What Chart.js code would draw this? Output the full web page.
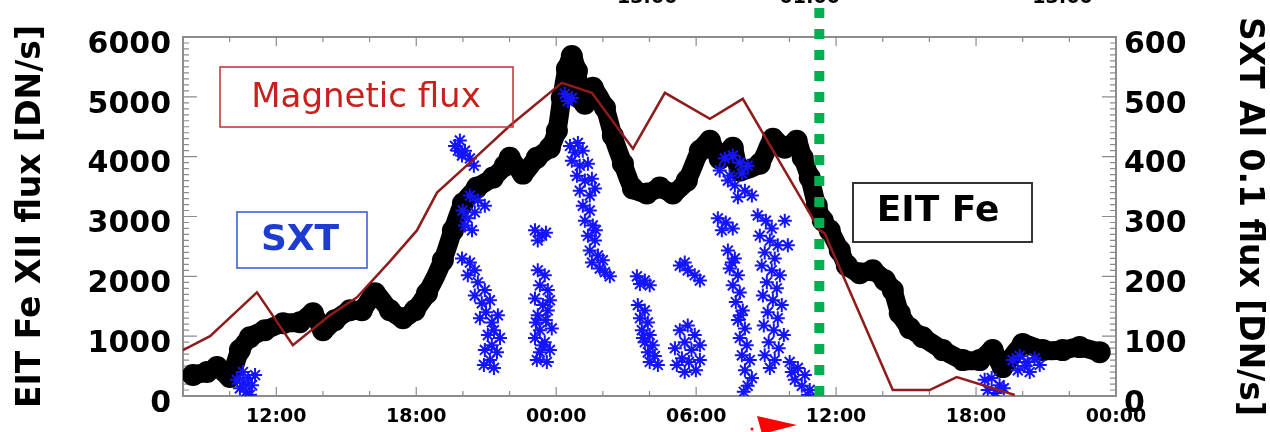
<!DOCTYPE html>
<html>
<head>
  <meta charset="utf-8">
  <title>EIT / SXT / magnetic flux</title>
  <script src="https://cdn.jsdelivr.net/npm/chart.js@4.4.1/dist/chart.umd.min.js"></script>
  <style>
    html, body { margin: 0; padding: 0; background: #ffffff; }
    #wrap { position: relative; width: 1270px; height: 432px; }
  </style>
</head>
<body>
<div id="wrap"><canvas id="chartJSContainer"></canvas></div>
<script>
// time in hours from 00:00 of the first day
var X_MIN = 8, X_MAX = 48;
var BOTTOM_TICKS  = [12, 18, 24, 30, 36, 42, 48];
var BOTTOM_LABELS = ['12:00', '18:00', '00:00', '06:00', '12:00', '18:00', '00:00'];
// cut-off labels of the panel above
var TOP_TICKS  = [27.9, 34.87, 45.71];
var TOP_LABELS = ['13:00', '01:00', '13:00'];

var MARKER_T = 35.28;   // green dotted line
var MARKER_TOP = 6620;

// magnetic flux (left axis units)
var MAG_T = [8.0, 9.16, 11.17, 12.71, 14.3, 15.46, 16.87, 18.03, 18.89, 20.3, 22.01, 24.24,
             25.53, 27.29, 28.66, 30.59, 32.0, 35.3, 35.51, 38.43, 40.01, 41.17, 43.66];
var MAG_V = [767, 1000, 1733, 850, 1350, 1650, 2250, 2767, 3400, 3900, 4517, 5233,
             5067, 4133, 5067, 4633, 4967, 2767, 2717, 100, 100, 317, 17];

// EIT Fe XII flux [DN/s]
var EIT_T = [8.43, 9.03, 9.46, 10.01, 10.44, 10.87, 11.51, 12.29, 13.01, 13.57, 14.0, 14.51,
             15.16, 15.67, 16.23, 16.87, 17.43, 17.94, 18.46, 19.14, 19.57, 20.0, 20.6, 21.29,
             21.8, 22.01, 22.57, 23.17, 23.73, 24.03, 24.24, 24.46, 24.67, 24.89, 25.01, 25.23,
             25.57, 26.09, 26.43, 26.86, 27.29, 27.89, 28.44, 29.0, 29.6, 30.16, 30.59, 31.01,
             31.57, 31.87, 32.73, 33.29, 33.8, 34.31, 34.57, 34.87, 35.17, 35.43, 35.73, 36.16,
             36.46, 37.01, 37.57, 38.09, 38.43, 38.73, 39.16, 39.71, 40.57, 41.43, 42.16, 42.71,
             43.14, 44.0, 44.86, 45.71, 46.44, 47.3];
var EIT_V = [350, 400, 483, 317, 767, 983, 1100, 1217, 1233, 1383, 1100, 1267,
             1433, 1433, 1717, 1433, 1300, 1433, 1717, 2267, 2767, 3217, 3483, 3650,
             3850, 3983, 3717, 3983, 4150, 4433, 4983, 5467, 5683, 5433, 4983, 4883,
             5150, 4817, 4350, 3883, 3467, 3383, 3483, 3383, 3600, 4100, 4267, 3967,
             4150, 3767, 3883, 4300, 4150, 4267, 3983, 3650, 3183, 2933, 2767, 2433,
             2183, 2050, 2100, 1933, 1767, 1383, 1133, 983, 767, 600, 600, 767,
             483, 867, 767, 767, 817, 733];

// SXT Al 0.1 flux [DN/s] (right axis)
var SXT_T = [
  10.31, 10.57, 10.79, 10.44, 10.7, 10.96, 11.09, 10.87, 10.61,
  19.66, 19.87, 20.09, 20.3, 19.96, 20.47, 19.79,
  20.3, 20.64, 19.99, 20.2, 20.51, 20.94, 20.39, 20.09,
  19.96, 20.3, 20.51, 20.21, 20.64, 20.94, 20.51, 20.81, 21.16, 20.99, 20.73, 21.24,
  21.5, 21.33, 21.07, 21.59, 21.24, 20.94, 21.46, 21.16, 20.9, 21.33,
  23.09, 23.39, 23.21, 23.56,
  23.21, 23.51, 23.3, 23.64, 23.09, 23.43, 23.73, 23.21, 23.56, 23.3, 23.81, 23.09,
  23.51, 23.3, 23.73, 23.17, 23.6, 23.39, 23.64, 23.13,
  24.37, 24.67, 24.5,
  24.59, 24.93, 24.8, 25.14, 24.67, 25.01, 25.36, 24.89, 25.23, 25.53, 25.01, 25.44, 25.66,
  25.14, 25.44, 25.23, 25.57, 25.36, 25.66, 25.44, 25.79, 25.53, 25.87, 26.09, 26.3, 25.7, 26.0,
  27.46, 27.8, 28.01, 27.59,
  27.5, 27.8, 27.59, 27.93, 27.67, 28.01, 27.8, 28.14, 27.93, 28.23, 28.01, 28.36, 27.72,
  29.3, 29.64, 29.94, 30.16, 29.51,
  29.3, 29.64, 29.94, 29.51, 29.09, 29.8, 30.16, 29.39, 29.17, 29.69, 29.99, 29.51, 30.16,
  31.23, 31.57, 31.87, 32.21, 31.01, 31.44, 31.96, 31.66, 32.09, 32.39, 31.36, 31.79,
  30.93, 31.27, 31.57, 31.1,
  31.36, 31.66, 31.44, 31.79, 31.57, 31.87, 31.7, 32.0, 31.79, 32.09, 31.87, 32.17,
  31.96, 32.3, 32.09, 32.39, 32.21, 32.04, 31.53, 31.91,
  32.64, 32.99, 33.24, 32.73, 33.16, 33.5, 32.94, 33.37, 32.81, 33.24, 33.59, 33.03,
  33.46, 32.86, 33.29, 33.67, 33.07, 33.5, 32.9, 33.33, 33.76, 33.11, 33.54, 32.94,
  33.37, 33.16, 33.8, 33.93,
  34.01, 34.36, 34.66, 34.23, 34.53, 34.87, 34.1, 34.79,
  42.37, 42.67, 43.01, 42.5, 42.84, 43.19,
  43.57, 43.87, 44.21, 44.51, 44.73, 43.79, 44.3, 44.09
];
var SXT_V = [
  27, 40, 30, 13, 7, 18, 35, 2, 22,
  418, 427, 410, 397, 402, 385, 410,
  335, 327, 310, 297, 307, 318, 277, 285,
  230, 223, 210, 202, 190, 177, 168, 155, 160, 140, 130, 123,
  135, 110, 102, 97, 85, 77, 73, 60, 52, 47,
  277, 268, 260, 273,
  210, 202, 185, 177, 163, 152, 160, 135, 127, 110, 113, 97,
  90, 73, 77, 60, 57, 85, 143, 123,
  505, 498, 493,
  418, 423, 407, 410, 393, 385, 388, 368, 360, 363, 343, 335, 347,
  318, 310, 293, 285, 268, 260, 243, 235, 223, 213, 207, 200, 277, 227,
  200, 193, 185, 187,
  152, 143, 130, 123, 110, 102, 90, 85, 73, 67, 57, 52, 97,
  218, 210, 202, 193, 223,
  110, 118, 102, 90, 80, 77, 85, 63, 52, 57, 43, 40, 60,
  397, 402, 390, 385, 377, 368, 372, 352, 343, 335, 360, 332,
  297, 290, 280, 277,
  243, 230, 213, 202, 185, 173, 157, 143, 127, 113, 97, 85,
  68, 60, 43, 30, 17, 7, 223, 135,
  302, 293, 280, 268, 260, 252, 240, 230, 218, 210, 202, 190,
  180, 168, 160, 152, 140, 130, 118, 110, 102, 90, 80, 68,
  60, 47, 293, 252,
  57, 47, 35, 27, 17, 10, 40, 2,
  27, 30, 18, 10, 5, 13,
  60, 67, 57, 63, 52, 43, 40, 50
];

var FONT = "'DejaVu Sans', sans-serif";

function toPoints(xs, ys){
    var pts = new Array();
    for(var i = 0; i < xs.length; i++){
        pts.push({x: xs[i], y: ys[i]});
    }
    return pts;
}

// box, inward ticks, labels in boxes, red arrow
var framePlugin = {
    id: 'frame',
    beforeDatasetsDraw: function(chart){
        var ctx = chart.ctx, a = chart.chartArea, sx = chart.scales.x, sy = chart.scales.y;
        ctx.save();
        ctx.strokeStyle = '#8c8c8c';
        ctx.lineWidth = 2;
        ctx.strokeRect(a.left, a.top, a.right - a.left, a.bottom - a.top);
        ctx.lineWidth = 1.2;
        ctx.beginPath();
        for(var h = X_MIN; h <= X_MAX; h += 2){
            var x = sx.getPixelForValue(h);
            var len = (h % 6 == 0) ? 9 : 5;
            ctx.moveTo(x, a.bottom); ctx.lineTo(x, a.bottom - len);
            ctx.moveTo(x, a.top); ctx.lineTo(x, a.top + len);
        }
        for(var v = 0; v <= 6000; v += 100){
            var y = sy.getPixelForValue(v);
            var l2 = (v % 1000 == 0) ? 14 : 6;
            ctx.moveTo(a.left, y); ctx.lineTo(a.left + l2, y);
            ctx.moveTo(a.right, y); ctx.lineTo(a.right - l2, y);
        }
        ctx.stroke();
        ctx.restore();
    },
    afterDatasetsDraw: function(chart){
        var ctx = chart.ctx;
        ctx.save();
        ctx.textAlign = 'center';
        ctx.textBaseline = 'middle';

        ctx.lineWidth = 1.6;
        ctx.strokeStyle = '#c23b3b';
        ctx.strokeRect(220, 67, 293, 60);
        ctx.fillStyle = '#c8201e';
        ctx.font = "34px " + FONT;
        ctx.fillText('Magnetic flux', 366, 98);

        ctx.strokeStyle = '#3d5fd8';
        ctx.strokeRect(237, 212, 130, 56);
        ctx.fillStyle = '#1e3ccf';
        ctx.font = "bold 36px " + FONT;
        ctx.fillText('SXT', 300, 241);

        ctx.lineWidth = 2;
        ctx.strokeStyle = '#333333';
        ctx.strokeRect(853, 183, 179, 59);
        ctx.fillStyle = '#000000';
        ctx.font = "bold 36px " + FONT;
        ctx.fillText('EIT Fe', 938, 212);

        // red arrow head under the axis
        ctx.fillStyle = '#ff0000';
        ctx.beginPath();
        ctx.moveTo(757, 416);
        ctx.lineTo(797, 425);
        ctx.lineTo(762, 434);
        ctx.closePath();
        ctx.fill();
        ctx.beginPath();
        ctx.arc(752, 429, 1.5, 0, Math.PI * 2);
        ctx.fill();
        ctx.restore();
    }
};

function plainTick(v){
    return String(v);
}

window.onload = function(){
    var ctx = document.getElementById('chartJSContainer').getContext('2d');
    var chart = new Chart(ctx, {
        type: 'scatter',
        data: {
            datasets: [
                {
                    label: 'marker',
                    data: [{x: MARKER_T, y: 0}, {x: MARKER_T, y: MARKER_TOP}],
                    showLine: true,
                    borderColor: '#00b04f',
                    borderWidth: 10,
                    borderDash: [10, 11],
                    pointRadius: 0,
                    clip: false,
                    order: 0
                },
                {
                    label: 'Magnetic flux',
                    data: toPoints(MAG_T, MAG_V),
                    showLine: true,
                    borderColor: '#8e1c1c',
                    borderWidth: 2.5,
                    pointRadius: 0,
                    order: 1
                },
                {
                    label: 'SXT',
                    data: toPoints(SXT_T, SXT_V),
                    yAxisID: 'y2',
                    pointStyle: 'star',
                    pointRadius: 7,
                    pointBorderWidth: 2,
                    borderColor: '#1414ff',
                    backgroundColor: '#1414ff',
                    order: 2
                },
                {
                    label: 'EIT Fe',
                    data: toPoints(EIT_T, EIT_V),
                    showLine: true,
                    borderColor: '#000000',
                    backgroundColor: '#000000',
                    borderWidth: 19,
                    borderJoinStyle: 'round',
                    borderCapStyle: 'round',
                    tension: 0.2,
                    pointRadius: 11,
                    pointBorderWidth: 0,
                    order: 3
                }
            ]
        },
        options: {
            responsive: true,
            maintainAspectRatio: false,
            animation: false,
            devicePixelRatio: 1,
            events: [],
            layout: { padding: 0 },
            plugins: {
                legend: { display: false },
                tooltip: { enabled: false }
            },
            scales: {
                x: {
                    type: 'linear',
                    position: 'bottom',
                    min: X_MIN,
                    max: X_MAX,
                    afterBuildTicks: function(s){ s.ticks = BOTTOM_TICKS.map(function(v){ return {value: v}; }); },
                    afterFit: function(s){ s.height = 36; },
                    ticks: {
                        autoSkip: false,
                        maxRotation: 0,
                        padding: 10,
                        color: '#000000',
                        font: { family: FONT, size: 19, weight: 'bold' },
                        callback: function(v, i){ return BOTTOM_LABELS[i]; }
                    },
                    grid: { display: false, drawTicks: false },
                    border: { display: false }
                },
                x2: {
                    type: 'linear',
                    position: 'top',
                    min: X_MIN,
                    max: X_MAX,
                    afterBuildTicks: function(s){ s.ticks = TOP_TICKS.map(function(v){ return {value: v}; }); },
                    afterFit: function(s){ s.height = 37; },
                    ticks: {
                        autoSkip: false,
                        maxRotation: 0,
                        padding: 28,
                        color: '#000000',
                        font: { family: FONT, size: 19, weight: 'bold' },
                        callback: function(v, i){ return TOP_LABELS[i]; }
                    },
                    grid: { display: false, drawTicks: false },
                    border: { display: false }
                },
                y: {
                    position: 'left',
                    min: 0,
                    max: 6000,
                    afterFit: function(s){ s.width = 183; },
                    ticks: {
                        stepSize: 1000,
                        padding: 12,
                        labelOffset: 8,
                        color: '#000000',
                        font: { family: FONT, size: 30, weight: 'bold' },
                        callback: plainTick
                    },
                    title: {
                        display: true,
                        text: 'EIT Fe XII flux [DN/s]',
                        color: '#000000',
                        font: { family: FONT, size: 33, weight: 'bold' },
                        padding: { top: 12, bottom: 0 }
                    },
                    grid: { display: false, drawTicks: false },
                    border: { display: false }
                },
                y2: {
                    position: 'right',
                    min: 0,
                    max: 600,
                    afterFit: function(s){ s.width = 154; },
                    ticks: {
                        stepSize: 100,
                        padding: 8,
                        labelOffset: 8,
                        color: '#000000',
                        font: { family: FONT, size: 30, weight: 'bold' },
                        callback: plainTick
                    },
                    title: {
                        display: true,
                        text: 'SXT Al 0.1 flux [DN/s]',
                        color: '#000000',
                        font: { family: FONT, size: 33, weight: 'bold' },
                        padding: { top: 2, bottom: 0 }
                    },
                    grid: { display: false, drawTicks: false },
                    border: { display: false }
                }
            }
        },
        plugins: [framePlugin]
    });
};
</script>
</body>
</html>
